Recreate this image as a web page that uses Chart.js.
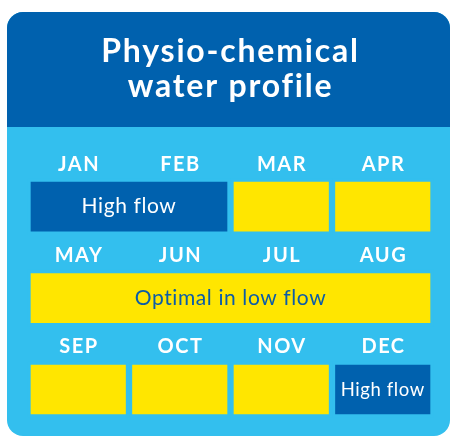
<!DOCTYPE html>
<html>
<head>
<meta charset="utf-8">
<script src="https://cdn.jsdelivr.net/npm/chart.js@4"></script>
<style>
  html, body { margin: 0; padding: 0; background: #ffffff; }
  #wrap { width: 451px; height: 440px; }
</style>
</head>
<body>
<div id="wrap"><canvas id="chartProfile" width="451" height="440"></canvas></div>
<script>
// Rows of the month grid (hidden category axis)
const rowNames = ['Row 1', 'Row 2', 'Row 3'];
const monthNames = ['JAN', 'FEB', 'MAR', 'APR', 'MAY', 'JUN', 'JUL', 'AUG', 'SEP', 'OCT', 'NOV', 'DEC'];

// Blocks: which row, start/end column (month slot within the row), status, text
const segRow = [0, 0, 0, 1, 2, 2, 2, 2];
const segStart = [0, 2, 3, 0, 0, 1, 2, 3];
const segEnd = [2, 3, 4, 4, 1, 2, 3, 4];
const segStatus = ['high', 'optimal', 'optimal', 'optimal', 'optimal', 'optimal', 'optimal', 'high'];
const segText = ['High flow', '', '', 'Optimal in low flow', '', '', '', 'High flow'];

const DARK_BLUE = '#0061ae';
const LIGHT_BLUE = '#33bfee';
const YELLOW = '#ffe600';
const FONT = 'Lato, "Open Sans", sans-serif';

const fillColors = { high: DARK_BLUE, optimal: YELLOW };
const textColors = { high: '#ffffff', optimal: '#0b5ca8' };

/**
 * Card background + header band
 */
const cardPlugin = {
    id: 'card',
    beforeDraw(chart) {
        const ctx = chart.ctx;
        const left = 7, top = 12, right = 450, bottom = 436, r = 16;
        const headerBottom = 127;
        ctx.save();
        ctx.fillStyle = LIGHT_BLUE;
        ctx.beginPath();
        ctx.roundRect(left, top, right - left, bottom - top, r);
        ctx.fill();
        ctx.fillStyle = DARK_BLUE;
        ctx.beginPath();
        ctx.roundRect(left, top, right - left, headerBottom - top, [r, r, 0, 0]);
        ctx.fill();
        ctx.restore();
        // wider tracking for the title, which is drawn next
        ctx.letterSpacing = '1.8px';
    }
};

/**
 * Month names above each row + text inside blocks
 */
const labelPlugin = {
    id: 'gridLabels',
    afterDatasetsDraw(chart) {
        const ctx = chart.ctx;
        const xScale = chart.scales.x;
        const yScale = chart.scales.y;
        ctx.save();
        ctx.textAlign = 'center';
        ctx.textBaseline = 'middle';

        // month headers
        ctx.fillStyle = '#ffffff';
        ctx.font = `bold 20px ${FONT}`;
        ctx.letterSpacing = '1.5px';
        rowNames.forEach((row, r) => {
            const yRow = yScale.getPixelForValue(r) - 42.5;
            for (let c = 0; c < 4; c++) {
                ctx.fillText(monthNames[r * 4 + c], xScale.getPixelForValue(c + 0.5) + 0.75, yRow);
            }
        });

        // block texts
        ctx.letterSpacing = '0.6px';
        chart.data.datasets.forEach((ds, i) => {
            if (!segText[i]) return;
            const bar = chart.getDatasetMeta(i).data[segRow[i]];
            if (!bar) return;
            const cx = (bar.x + bar.base) / 2;
            const avail = Math.abs(bar.x - bar.base) - 17;
            let size = 21;
            ctx.font = `${size}px ${FONT}`;
            while (ctx.measureText(segText[i]).width > avail && size > 10) {
                size -= 0.5;
                ctx.font = `${size}px ${FONT}`;
            }
            ctx.fillStyle = textColors[segStatus[i]];
            ctx.fillText(segText[i], cx, bar.y);
        });
        ctx.restore();
        ctx.letterSpacing = '0px';
    }
};

const datasets = segRow.map((row, i) => ({
    label: segText[i] || monthNames[row * 4 + segStart[i]],
    data: rowNames.map((_, j) => (j === row ? [segStart[i], segEnd[i]] : null)),
    backgroundColor: fillColors[segStatus[i]],
    borderColor: LIGHT_BLUE,
    borderWidth: 3.5,
    borderSkipped: false,
    grouped: false,
    barThickness: 56
}));

new Chart(document.getElementById('chartProfile').getContext('2d'), {
    type: 'bar',
    data: { labels: rowNames, datasets },
    options: {
        indexAxis: 'y',
        responsive: false,
        devicePixelRatio: 1,
        animation: false,
        layout: { padding: { left: 27.5, right: 17.5, top: 0, bottom: 4.75 } },
        scales: {
            x: { type: 'linear', min: 0, max: 4, display: false },
            y: { display: false, offset: true }
        },
        plugins: {
            legend: { display: false },
            tooltip: { enabled: false },
            title: {
                display: true,
                text: ['Physio-chemical', 'water profile'],
                color: '#ffffff',
                font: { family: FONT, size: 32, weight: 'bold', lineHeight: 1.07 },
                padding: { top: 35, bottom: 57.5 }
            }
        }
    },
    plugins: [cardPlugin, labelPlugin]
});
</script>
</body>
</html>
